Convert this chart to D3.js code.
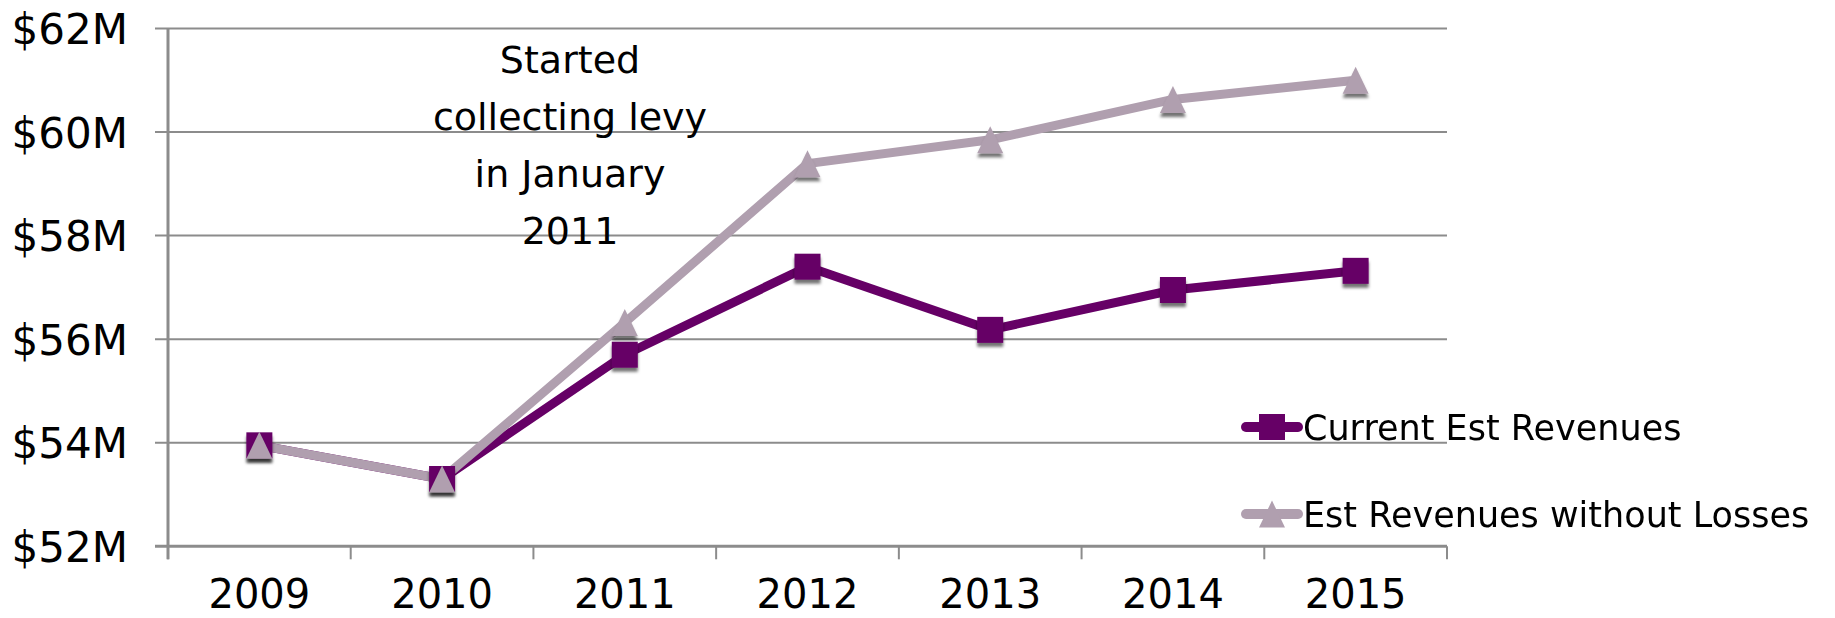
<!DOCTYPE html>
<html>
<head>
<meta charset="utf-8">
<script src="https://cdn.jsdelivr.net/npm/d3@7"></script>
<style>
  html, body { margin: 0; padding: 0; background: #ffffff; }
  svg { display: block; }
  text { font-family: "DejaVu Sans", sans-serif; fill: #000; }
</style>
</head>
<body>
<svg id="chart" width="1835" height="618"></svg>
<script>
// ---- data ----
const years = ["2009", "2010", "2011", "2012", "2013", "2014", "2015"];
const currentRevenue = [53.95, 53.3, 55.7, 57.4, 56.18, 56.95, 57.32];
const revenueWithoutLosses = [53.95, 53.3, 56.32, 59.39, 59.85, 60.63, 61.0];
const yTickValues = [52, 54, 56, 58, 60, 62];
const yTickLabels = ["$52M", "$54M", "$56M", "$58M", "$60M", "$62M"];
const seriesNames = ["Current Est Revenues", "Est Revenues without Losses"];
const annotationLines = ["Started", "collecting levy", "in January", "2011"];

(function () {
// ---- layout ----
const plotLeft = 168, plotRight = 1447, plotTop = 28.5, plotBottom = 546.3;
const gridColor = "#8c8c8c";
const purple = "#660066", lilac = "#b09faf";

const svg = d3.select("#chart");

const defs = svg.append("defs");
const f = defs.append("filter").attr("id", "shadow")
  .attr("x", "-50%").attr("y", "-50%").attr("width", "200%").attr("height", "200%");
f.append("feDropShadow").attr("dx", 0).attr("dy", 4).attr("stdDeviation", 1.6)
  .attr("flood-color", "#000").attr("flood-opacity", 0.55);

const x = d3.scaleBand().domain(years).range([plotLeft, plotRight]).padding(0);
const xc = d => x(d) + x.bandwidth() / 2;
const y = d3.scaleLinear().domain([52, 62]).range([plotBottom, plotTop]);

// gridlines
svg.append("g").selectAll("line").data(yTickValues.filter(v => v !== 52)).join("line")
  .attr("x1", plotLeft - 13).attr("x2", plotRight)
  .attr("y1", d => y(d)).attr("y2", d => y(d))
  .attr("stroke", gridColor).attr("stroke-width", 2);

// y axis (labels)
const yAxis = d3.axisLeft(y).tickValues(yTickValues).tickSize(0).tickPadding(0)
  .tickFormat((d, i) => yTickLabels[i]);
const gy = svg.append("g").attr("transform", `translate(${plotLeft - 40},0)`).call(yAxis);
gy.select(".domain").remove();
gy.selectAll("text").attr("font-size", 42).attr("font-family", "DejaVu Sans").attr("fill", "#000")
  .attr("dy", "0.36em");

// axis lines
svg.append("line").attr("x1", plotLeft).attr("x2", plotLeft).attr("y1", plotTop).attr("y2", plotBottom + 13)
  .attr("stroke", gridColor).attr("stroke-width", 3);
svg.append("line").attr("x1", plotLeft - 13).attr("x2", plotRight).attr("y1", plotBottom).attr("y2", plotBottom)
  .attr("stroke", gridColor).attr("stroke-width", 3);

// x boundary ticks
const boundaries = years.map(d => x(d)).concat([x(years[years.length - 1]) + x.bandwidth()]);
svg.append("g").selectAll("line").data(boundaries).join("line")
  .attr("x1", d => d).attr("x2", d => d).attr("y1", plotBottom).attr("y2", plotBottom + 13)
  .attr("stroke", gridColor).attr("stroke-width", 2);

// x axis labels
const xAxis = d3.axisBottom(x).tickSize(0).tickPadding(0);
const gx = svg.append("g").attr("transform", `translate(0,${plotBottom})`).call(xAxis);
gx.select(".domain").remove();
gx.selectAll("text").attr("font-size", 40).attr("font-family", "DejaVu Sans").attr("fill", "#000")
  .attr("dy", null).attr("y", 62);

// annotation
svg.append("text").attr("text-anchor", "middle").attr("font-size", 38)
  .selectAll("tspan").data(annotationLines).join("tspan")
  .attr("x", 570).attr("y", (d, i) => 73 + i * 57)
  .text(d => d);

// series
const line = d3.line().x((d, i) => xc(years[i])).y(d => y(d)).curve(d3.curveLinear);
const sq = 26;
const squarePath = `M${-sq/2},${-sq/2}H${sq/2}V${sq/2}H${-sq/2}Z`;
const triPath = `M0,${-sq/2 - 0.5}L${sq/2},${sq/2 + 0.5}L${-sq/2},${sq/2 + 0.5}Z`;

const series = [
  { name: seriesNames[0], values: currentRevenue, color: purple, shape: squarePath },
  { name: seriesNames[1], values: revenueWithoutLosses, color: lilac, shape: triPath }
];

series.forEach(s => {
  svg.append("path").datum(s.values).attr("d", line)
    .attr("fill", "none").attr("stroke", s.color).attr("stroke-width", 9)
    .attr("stroke-linejoin", "round");
});
series.forEach(s => {
  svg.append("g").attr("filter", "url(#shadow)")
    .selectAll("path").data(s.values).join("path")
    .attr("transform", (d, i) => `translate(${xc(years[i])},${y(d)})`)
    .attr("d", s.shape).attr("fill", s.color);
});

// legend
const legendY = [427, 514];
const lg = svg.append("g");
series.forEach((s, i) => {
  const g = lg.append("g").attr("transform", `translate(0,${legendY[i]})`);
  g.append("line").attr("x1", 1246).attr("x2", 1298).attr("y1", 0).attr("y2", 0)
    .attr("stroke", s.color).attr("stroke-width", 10).attr("stroke-linecap", "round");
  g.append("path").attr("transform", "translate(1272,0)").attr("d", s.shape).attr("fill", s.color);
  g.append("text").attr("x", 1303).attr("y", 13).attr("font-size", 35).text(s.name);
});
})();
</script>
</body>
</html>
